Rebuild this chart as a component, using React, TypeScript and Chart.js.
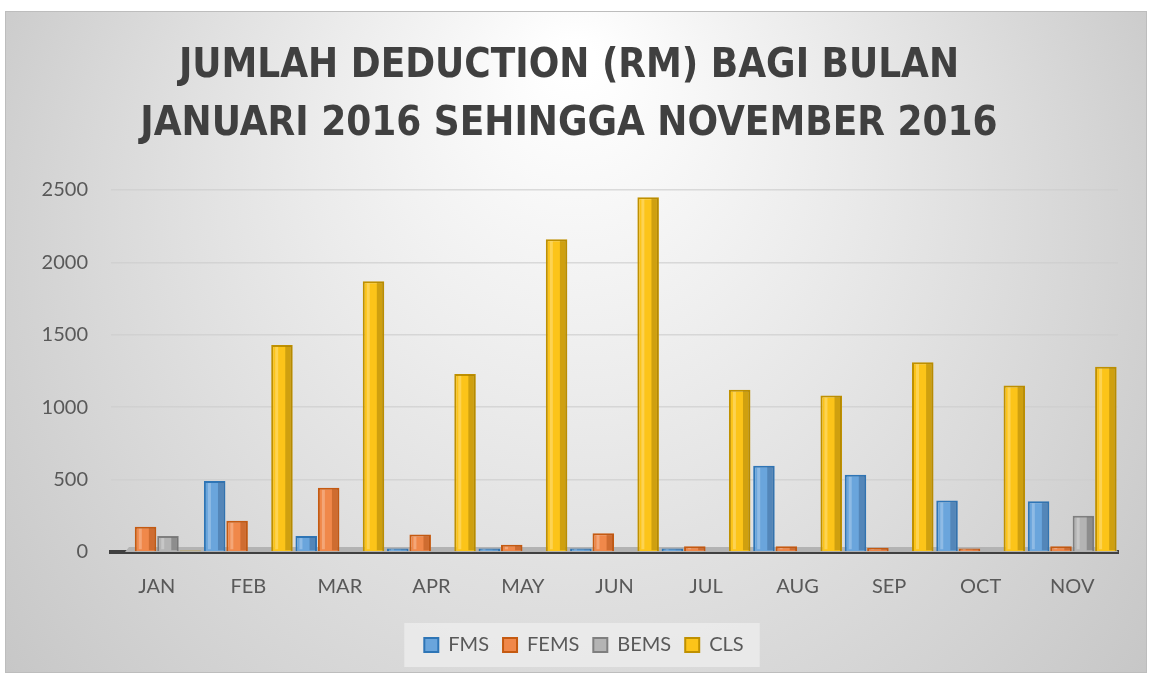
import React, { useEffect, useRef } from "react";
import { Chart, registerables } from "chart.js";

Chart.register(...registerables);

const CATEGORIES = ["JAN", "FEB", "MAR", "APR", "MAY", "JUN", "JUL", "AUG", "SEP", "OCT", "NOV"];
const FMS = [5, 490, 110, 25, 25, 25, 25, 595, 533, 355, 350];
const FEMS = [175, 215, 443, 120, 50, 130, 40, 40, 30, 25, 40];
const BEMS = [110, 0, 0, 0, 0, 0, 0, 0, 0, 0, 250];
const CLS = [10, 1430, 1870, 1230, 2160, 2450, 1120, 1080, 1310, 1150, 1280];
const Y_TICKS = [0, 500, 1000, 1500, 2000, 2500];

const TITLE_LINES = ["JUMLAH DEDUCTION (RM) BAGI BULAN", "JANUARI 2016 SEHINGGA NOVEMBER 2016"];

const SERIES = [
  { label: "FMS", data: FMS, fill: "#6aa5dc", border: "#2e75b6", side: "#3f6e9c" },
  { label: "FEMS", data: FEMS, fill: "#f0884a", border: "#c55a11", side: "#b4561c" },
  { label: "BEMS", data: BEMS, fill: "#b4b4b4", border: "#7f7f7f", side: "#6d6d6d" },
  { label: "CLS", data: CLS, fill: "#fcc419", border: "#bf9000", side: "#a98307" },
];

const bgPlugin = {
  id: "bgPlugin",
  afterLayout(chart: any) {
    const lg = chart.legend;
    if (lg) {
      lg.left += 15;
      lg.right += 15;
    }
  },
  beforeDraw(chart: any) {
    const { ctx, width, height } = chart;
    ctx.save();
    ctx.fillStyle = "#ffffff";
    ctx.fillRect(0, 0, width, height);
    const x0 = 5, y0 = 11, x1 = 1147, y1 = 673;
    const g = ctx.createRadialGradient(575, 60, 20, 575, 300, 720);
    g.addColorStop(0, "#ffffff");
    g.addColorStop(0.35, "#ebebeb");
    g.addColorStop(1, "#c4c4c4");
    ctx.fillStyle = g;
    ctx.fillRect(x0, y0, x1 - x0, y1 - y0);
    ctx.strokeStyle = "#bdbdbd";
    ctx.lineWidth = 1;
    ctx.strokeRect(x0 + 0.5, y0 + 0.5, x1 - x0 - 1, y1 - y0 - 1);
    const lg = chart.legend;
    if (lg && lg.legendHitBoxes && lg.legendHitBoxes.length) {
      const hb = lg.legendHitBoxes;
      let l = Infinity, r = -Infinity, t = Infinity, b = -Infinity;
      hb.forEach((h: any) => {
        l = Math.min(l, h.left);
        r = Math.max(r, h.left + h.width);
        t = Math.min(t, h.top);
        b = Math.max(b, h.top + h.height);
      });
      ctx.fillStyle = "rgba(234,234,234,0.95)";
      ctx.fillRect(l - 20, t - 12, r - l + 36, b - t + 24);
    }
    ctx.restore();
  },
  beforeDatasetsDraw(chart: any) {
    const { ctx, chartArea, scales } = chart;
    const y0 = scales.y.getPixelForValue(0);
    ctx.save();
    ctx.fillStyle = "#b3b3b3";
    ctx.beginPath();
    ctx.moveTo(chartArea.left + 18, y0 - 5);
    ctx.lineTo(chartArea.right - 4, y0 - 5);
    ctx.lineTo(chartArea.right, y0);
    ctx.lineTo(chartArea.left + 14, y0);
    ctx.closePath();
    ctx.fill();
    ctx.restore();
  },
};

const bar3dPlugin = {
  id: "bar3dPlugin",
  afterDatasetsDraw(chart: any) {
    const { ctx } = chart;
    ctx.save();
    chart.data.datasets.forEach((ds: any, i: number) => {
      const meta = chart.getDatasetMeta(i);
      if (meta.hidden) return;
      const s = SERIES[i];
      meta.data.forEach((el: any) => {
        const { x, y, base, width } = el.getProps(["x", "y", "base", "width"], true);
        const h = base - y;
        if (h <= 1) return;
        const right = x + width / 2;
        const sideW = Math.min(7, width * 0.3);
        ctx.globalAlpha = 0.55;
        ctx.fillStyle = s.side;
        ctx.fillRect(right - sideW - 1, y + 1, sideW, h - 2);
        ctx.globalAlpha = 0.25;
        ctx.fillStyle = "#ffffff";
        ctx.fillRect(x - width / 2 + 4, y + 2, 3, h - 4);
        ctx.globalAlpha = 1;
      });
    });
    ctx.restore();
  },
};

export default function App() {
  const ref = useRef<HTMLCanvasElement>(null);

  useEffect(() => {
    document.body.style.margin = "0";
    const canvas = ref.current;
    if (!canvas) return;
    const chart = new Chart(canvas, {
      type: "bar",
      data: {
        labels: CATEGORIES,
        datasets: SERIES.map((s) => ({
          label: s.label,
          data: s.data,
          backgroundColor: s.fill,
          borderColor: s.border,
          borderWidth: 2,
          categoryPercentage: 0.98,
          barPercentage: 0.96,
        })),
      },
      options: {
        animation: false,
        responsive: false,
        maintainAspectRatio: false,
        layout: { padding: { top: 20, left: 20, right: 31, bottom: 12 } },
        plugins: {
          title: {
            display: true,
            text: TITLE_LINES,
            color: "#404040",
            font: { family: "'DejaVu Sans Condensed', 'DejaVu Sans'", size: 40, weight: "bold", lineHeight: 1.45 },
            padding: { top: 18, bottom: 36 },
          },
          legend: {
            display: true,
            position: "bottom",
            labels: {
              color: "#595959",
              font: { family: "Lato, 'Open Sans', sans-serif", size: 20 },
              boxWidth: 14,
              boxHeight: 14,
              padding: 14,
              generateLabels: () =>
                SERIES.map((s, i) => ({
                  text: s.label,
                  fillStyle: s.fill,
                  strokeStyle: s.border,
                  lineWidth: 2,
                  hidden: false,
                  datasetIndex: i,
                  fontColor: "#595959",
                })),
            },
          },
          tooltip: { enabled: false },
        },
        scales: {
          x: {
            grid: { display: false, drawTicks: false },
            border: { display: true, color: "#404040", width: 4 },
            ticks: { color: "#595959", font: { family: "Lato, 'Open Sans', sans-serif", size: 20 }, padding: 23 },
            afterFit: (scale: any) => {
              scale.height = 69;
            },
          },
          y: {
            min: 0,
            max: 2500,
            afterBuildTicks: (scale: any) => {
              scale.ticks = Y_TICKS.map((v) => ({ value: v }));
            },
            grid: { color: "rgba(205,205,205,0.7)", lineWidth: 1.5, drawTicks: false },
            border: { display: false },
            ticks: {
              color: "#595959",
              font: { family: "Lato, 'Open Sans', sans-serif", size: 20 },
              padding: 23,
              callback: (v: any) => String(v),
            },
            afterFit: (scale: any) => {
              scale.width = 91;
            },
          },
        },
      },
      plugins: [bgPlugin, bar3dPlugin],
    });
    return () => chart.destroy();
  }, []);

  return (
    <div style={{ width: 1149, height: 677 }}>
      <canvas ref={ref} width={1149} height={677} style={{ display: "block" }} />
    </div>
  );
}
